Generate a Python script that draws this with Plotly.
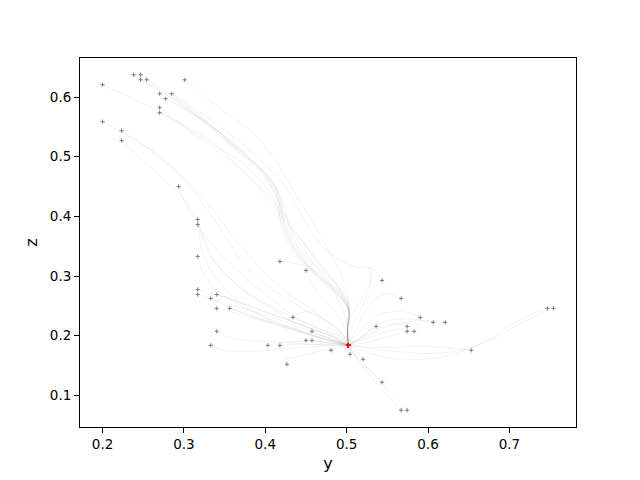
import plotly.graph_objects as go

# start positions of each trajectory (y, z)
start_y = [0.2382, 0.2468, 0.2468, 0.2542, 0.3010, 0.2000, 0.2702, 0.2850, 0.2776, 0.2702,
           0.2702, 0.2000, 0.2234, 0.2234, 0.2936, 0.3170, 0.3170, 0.3170, 0.4180, 0.4500,
           0.5436, 0.3170, 0.3170, 0.3404, 0.3330, 0.5670, 0.3404, 0.3564, 0.4340, 0.5904,
           0.6064, 0.6212, 0.5362, 0.5744, 0.5744, 0.5830, 0.4574, 0.3404, 0.3330, 0.4032,
           0.4180, 0.4500, 0.4574, 0.4808, 0.5042, 0.5202, 0.4266, 0.5436, 0.5670, 0.5744,
           0.6532, 0.7468, 0.7542]
start_z = [0.6375, 0.6375, 0.6291, 0.6291, 0.6291, 0.6208, 0.6057, 0.6057, 0.5973, 0.5823,
           0.5739, 0.5588, 0.5437, 0.5270, 0.4500, 0.3947, 0.3863, 0.3328, 0.3244, 0.3093,
           0.2926, 0.2775, 0.2691, 0.2691, 0.2624, 0.2624, 0.2457, 0.2457, 0.2306, 0.2306,
           0.2222, 0.2222, 0.2155, 0.2155, 0.2072, 0.2072, 0.2072, 0.2072, 0.1837, 0.1837,
           0.1837, 0.1921, 0.1921, 0.1754, 0.1687, 0.1603, 0.1519, 0.1218, 0.0749, 0.0749,
           0.1754, 0.2457, 0.2457]

# common end point
target_y = 0.502
target_z = 0.184

# points each trajectory passes through on its way to the target
via_points = [
    [(0.30, 0.585), (0.356, 0.522), (0.397, 0.472), (0.414, 0.432), (0.421, 0.377),
     (0.438, 0.332), (0.492, 0.265), (0.503, 0.24), (0.501, 0.21)],
    [(0.31, 0.58), (0.36, 0.52), (0.40, 0.47), (0.417, 0.43), (0.425, 0.375),
     (0.442, 0.33), (0.494, 0.265), (0.503, 0.24), (0.501, 0.21)],
    [(0.31, 0.575), (0.358, 0.518), (0.399, 0.466), (0.416, 0.425), (0.43, 0.37),
     (0.45, 0.325), (0.497, 0.262), (0.503, 0.24), (0.501, 0.21)],
    [(0.315, 0.573), (0.362, 0.518), (0.403, 0.466), (0.42, 0.43), (0.432, 0.38),
     (0.455, 0.33), (0.50, 0.265), (0.504, 0.24), (0.501, 0.21)],
    [(0.34, 0.585), (0.381, 0.544), (0.415, 0.49), (0.439, 0.432), (0.455, 0.399),
     (0.475, 0.35), (0.491, 0.31), (0.502, 0.26), (0.501, 0.21)],
    [(0.266, 0.578), (0.33, 0.525), (0.38, 0.48), (0.41, 0.43), (0.425, 0.37),
     (0.45, 0.32), (0.49, 0.27), (0.503, 0.24), (0.501, 0.21)],
    [(0.33, 0.555), (0.375, 0.505), (0.41, 0.455), (0.425, 0.40), (0.44, 0.35),
     (0.48, 0.29), (0.503, 0.25), (0.501, 0.21)],
    [(0.34, 0.555), (0.39, 0.50), (0.425, 0.45), (0.445, 0.40), (0.47, 0.35),
     (0.51, 0.315), (0.53, 0.312), (0.526, 0.28), (0.505, 0.23)],
    [(0.335, 0.55), (0.38, 0.50), (0.412, 0.45), (0.42, 0.40), (0.435, 0.35),
     (0.47, 0.29), (0.50, 0.25), (0.501, 0.21)],
    [(0.31, 0.54), (0.36, 0.49), (0.39, 0.45), (0.42, 0.40), (0.45, 0.35),
     (0.485, 0.29), (0.502, 0.25), (0.501, 0.21)],
    [(0.33, 0.53), (0.37, 0.48), (0.40, 0.44), (0.43, 0.39), (0.46, 0.33),
     (0.49, 0.28), (0.503, 0.24), (0.501, 0.21)],
    [(0.26, 0.51), (0.30, 0.46), (0.34, 0.39), (0.38, 0.31), (0.44, 0.25), (0.49, 0.21)],
    [(0.28, 0.49), (0.33, 0.42), (0.37, 0.35), (0.42, 0.28), (0.47, 0.23)],
    [(0.26, 0.48), (0.30, 0.43), (0.32, 0.38), (0.34, 0.32), (0.38, 0.27), (0.44, 0.22), (0.48, 0.20)],
    [(0.31, 0.40), (0.35, 0.33), (0.40, 0.27), (0.45, 0.22), (0.49, 0.20)],
    [(0.33, 0.34), (0.37, 0.28), (0.42, 0.24), (0.47, 0.21)],
    [(0.325, 0.33), (0.35, 0.28), (0.40, 0.23), (0.46, 0.20)],
    [(0.33, 0.29), (0.37, 0.25), (0.42, 0.22), (0.47, 0.195)],
    [(0.44, 0.32), (0.47, 0.30), (0.49, 0.26), (0.50, 0.22)],
    [(0.46, 0.28), (0.48, 0.25), (0.495, 0.22)],
    [(0.535, 0.31), (0.528, 0.315), (0.53, 0.29), (0.52, 0.25), (0.505, 0.21)],
    [(0.36, 0.26), (0.41, 0.235), (0.46, 0.21), (0.49, 0.195)],
    [(0.35, 0.255), (0.40, 0.235), (0.45, 0.21), (0.49, 0.19)],
    [(0.38, 0.25), (0.43, 0.225), (0.47, 0.205)],
    [(0.36, 0.245), (0.41, 0.22), (0.46, 0.20)],
    [(0.55, 0.27), (0.53, 0.255), (0.515, 0.22)],
    [(0.37, 0.235), (0.42, 0.215), (0.47, 0.195)],
    [(0.39, 0.23), (0.44, 0.21), (0.48, 0.195)],
    [(0.45, 0.24), (0.47, 0.23), (0.49, 0.21)],
    [(0.57, 0.24), (0.54, 0.235), (0.515, 0.205)],
    [(0.58, 0.228), (0.55, 0.225), (0.52, 0.20)],
    [(0.59, 0.225), (0.55, 0.215), (0.52, 0.195)],
    [(0.525, 0.205), (0.51, 0.19)],
    [(0.555, 0.22), (0.53, 0.205)],
    [(0.555, 0.20), (0.53, 0.19)],
    [(0.56, 0.21), (0.535, 0.20)],
    [(0.47, 0.20), (0.49, 0.19)],
    [(0.36, 0.195), (0.41, 0.19), (0.46, 0.185)],
    [(0.35, 0.175), (0.39, 0.174), (0.44, 0.18), (0.48, 0.183)],
    [(0.43, 0.19), (0.47, 0.188)],
    [(0.44, 0.186), (0.47, 0.185)],
    [(0.47, 0.19)],
    [(0.48, 0.188)],
    [(0.49, 0.178)],
    [(0.505, 0.175)],
    [(0.515, 0.17)],
    [(0.425, 0.16), (0.44, 0.165), (0.47, 0.175)],
    [(0.53, 0.14), (0.515, 0.16)],
    [(0.55, 0.10), (0.53, 0.13), (0.51, 0.165)],
    [(0.56, 0.095), (0.54, 0.125), (0.515, 0.16)],
    [(0.62, 0.18), (0.58, 0.182), (0.54, 0.18)],
    [(0.71, 0.225), (0.67, 0.19), (0.62, 0.165), (0.57, 0.16), (0.53, 0.17)],
    [(0.72, 0.225), (0.68, 0.195), (0.64, 0.175), (0.60, 0.17), (0.55, 0.175)],
]

fig = go.Figure()

for y0, z0, via in zip(start_y, start_z, via_points):
    ys = [y0] + [p[0] for p in via] + [target_y]
    zs = [z0] + [p[1] for p in via] + [target_z]
    fig.add_trace(go.Scatter(x=ys, y=zs, mode='lines', hoverinfo='skip', showlegend=False,
                             line=dict(color='rgba(0,0,0,0.09)', width=0.6,
                                       shape='spline', smoothing=1.0)))

fig.add_trace(go.Scatter(x=start_y, y=start_z, mode='markers', showlegend=False,
                         marker=dict(symbol='cross-thin', size=3,
                                     line=dict(color='#7f7f7f', width=1))))
fig.add_trace(go.Scatter(x=[target_y] * len(start_y), y=[target_z] * len(start_z),
                         mode='markers', showlegend=False,
                         marker=dict(symbol='cross-thin', size=3,
                                     line=dict(color='red', width=1.2))))

axis_style = dict(showline=True, linecolor='black', linewidth=1, mirror=True,
                  ticks='outside', ticklen=5, tickcolor='black', showgrid=False,
                  zeroline=False, dtick=0.1, tickformat='.1f')

# the page puts the figure 8px in from the corner, so margins are shifted by that much
fig.update_layout(
    width=640, height=480,
    margin=dict(l=72, r=72, t=50, b=61),
    paper_bgcolor='white', plot_bgcolor='white',
    font=dict(family='DejaVu Sans', size=13.5, color='black'),
    xaxis=dict(axis_style, range=[0.1723, 0.7819], tick0=0.2,
               title=dict(text='y', standoff=6)),
    yaxis=dict(axis_style, range=[0.0468, 0.6656], tick0=0.1,
               title=dict(text='z', standoff=8)),
)

fig.write_html("out.html")
